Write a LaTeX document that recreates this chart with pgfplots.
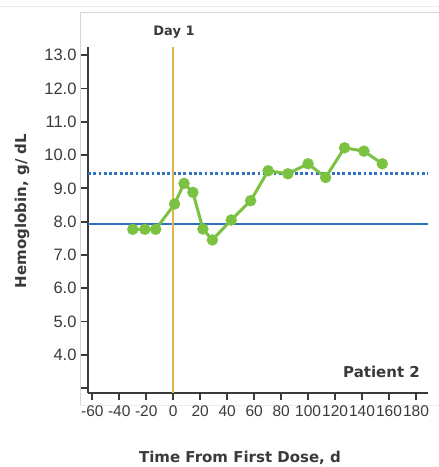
\documentclass[border=0pt]{standalone}
\usepackage{fontspec}
\setmainfont{DejaVu Sans}
\newfontfamily\tickfont{Liberation Sans}
\usepackage{pgfplots}
\pgfplotsset{compat=1.18}
\definecolor{ptgreen}{RGB}{124,194,66}
\definecolor{refblue}{RGB}{46,114,196}
\definecolor{dayorange}{RGB}{229,178,74}
\definecolor{axisgray}{RGB}{58,58,58}
\definecolor{panelgray}{RGB}{214,214,214}
\definecolor{faintgray}{RGB}{236,236,236}
\newcommand\ylab[1]{\tickfont\fontsize{16.5}{17}\selectfont #1}
\newcommand\xlab[1]{\tickfont\fontsize{15.5}{16}\selectfont #1}
\begin{document}
\begin{tikzpicture}[x=1pt,y=1pt]
\useasboundingbox (0,0) rectangle (439,467);
% panel frame
\draw[faintgray, line width=1pt] (0,460) -- (439,460);
\draw[panelgray, line width=0.8pt] (439,455) -- (80,455) -- (80,62);
\draw[faintgray, line width=0.8pt] (80,62) -- (439,62);
\begin{axis}[
  at={(88pt,74pt)}, anchor=south west,
  scale only axis, width=340pt, height=346pt,
  xmin=-63.2, xmax=188.9, ymin=2.85, ymax=13.25,
  axis x line*=bottom, axis y line*=left,
  axis line style={-, axisgray, line width=2pt},
  xtick={-60,-40,...,180},
  xticklabels={\xlab{-60},\xlab{-40},\xlab{-20},\xlab{0},\xlab{20},\xlab{40},\xlab{60},\xlab{80},\xlab{100},\xlab{120},\xlab{140},\xlab{160},\xlab{180}},
  ytick={3,4,...,13},
  yticklabels={{},\ylab{4.0},\ylab{5.0},\ylab{6.0},\ylab{7.0},\ylab{8.0},\ylab{9.0},\ylab{10.0},\ylab{11.0},\ylab{12.0},\ylab{13.0}},
  tick align=outside, major tick length=7pt,
  tick style={axisgray, line width=1.8pt},
  x tick label style={text=axisgray, yshift=-2pt},
  y tick label style={text=axisgray, xshift=-1pt},
  clip=false,
]
\addplot[refblue, line width=2pt] coordinates {(-63.2,7.93) (188.9,7.93)};
\addplot[refblue, line width=2.6pt, dash pattern=on 2.8pt off 2.5pt] coordinates {(-63.2,9.44) (188.9,9.44)};
\addplot[dayorange, line width=2pt] coordinates {(0,2.85) (0,13.25)};
\addplot[ptgreen, line width=3pt, mark=*, mark size=5.5pt,
  mark options={solid, fill=ptgreen, draw=ptgreen, line width=0.4pt}] coordinates {
  (-30,7.77) (-21,7.77) (-13,7.77) (1,8.53) (8,9.15) (14.6,8.88)
  (22,7.78) (29,7.45) (43,8.05) (57.4,8.63) (70.4,9.53) (85,9.44)
  (100,9.74) (113,9.33) (127,10.22) (141.4,10.12) (155,9.74)};
\end{axis}
\node[font=\bfseries\fontsize{13}{13}\selectfont, text=axisgray] at (174,435) {Day 1};
\node[font=\bfseries\fontsize{15}{15}\selectfont, text=axisgray] at (381.5,95) {Patient 2};
\node[font=\bfseries\fontsize{15}{15}\selectfont, text=axisgray] at (240,9) {Time From First Dose, d};
\node[font=\bfseries\fontsize{15}{15}\selectfont, text=axisgray, rotate=90] at (22,256) {Hemoglobin, g/ dL};
\end{tikzpicture}
\end{document}
